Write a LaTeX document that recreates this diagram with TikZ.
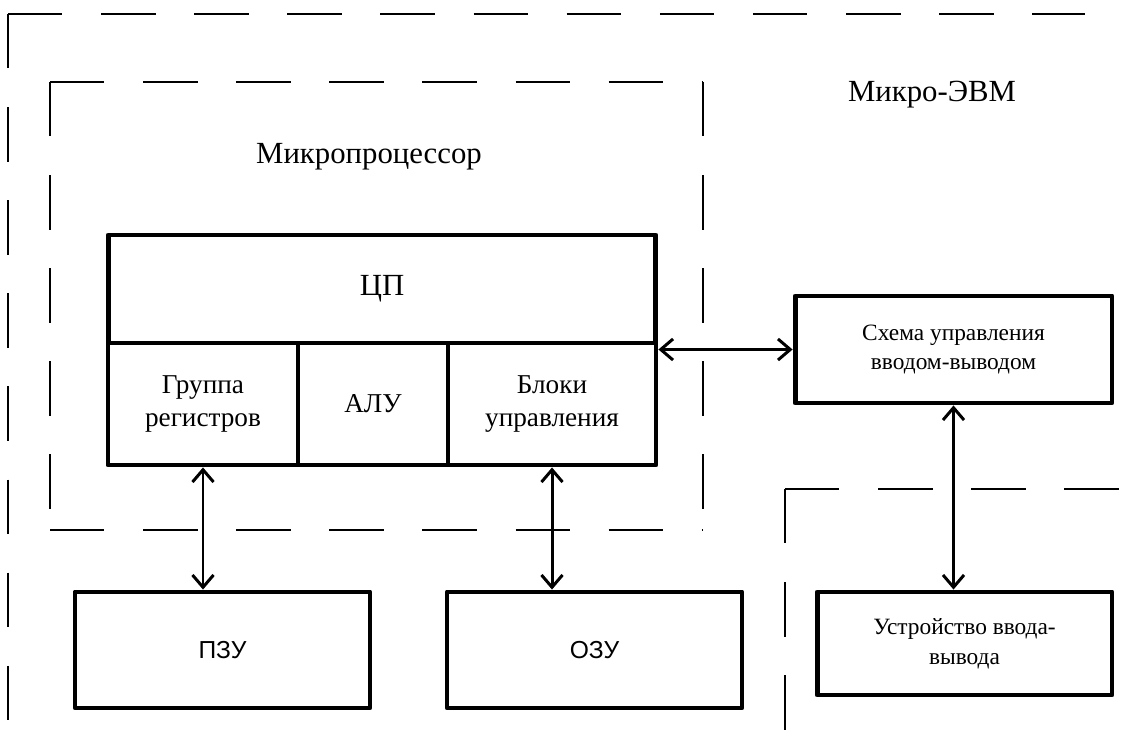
\documentclass[tikz,border=0pt]{standalone}
\usepackage{fontspec}
\setmainfont{Liberation Serif}
\newfontfamily\sansf{Liberation Sans}
\usetikzlibrary{arrows.meta}
\begin{document}
\begin{tikzpicture}[x=0.02cm, y=-0.02cm, line join=round,
	>={Straight Barb[length=7pt,width=12pt]},
	box/.style={draw, line width=2.8pt, inner sep=0pt, align=center},
	link/.style={<->, line width=1.7pt},
	frame/.style={line width=1.1pt, dash pattern=on 31pt off 22pt},
	big/.style={font=\fontsize{17.5}{21}\selectfont},
	mid/.style={font=\fontsize{15.5}{19}\selectfont},
	small/.style={font=\fontsize{13.3}{17}\selectfont}]
				\useasboundingbox (0,0) rectangle (1135,733);
				\draw[frame] (8,14)--(1085,14) (8,14)--(8,733);
				\draw[frame] (50,82)--(703,82) (50,82)--(50,530) (703,82)--(703,530) (50,530)--(703,530);
				\draw[frame] (785,489)--(1135,489) (785,489)--(785,733);
				\node[big] (evm) at (932,95) {Микро-ЭВМ};
				\node[big] (mp) at (369,157) {Микропроцессор};
				\node[box, big, minimum width=10.96cm, minimum height=2.16cm] (cp) at (382,289) {ЦП};
				\node[box, mid, minimum width=3.8cm, minimum height=2.44cm] (reg) at (203,404) {Группа\\регистров};
				\node[box, mid, minimum width=3cm, minimum height=2.44cm] (alu) at (373,404) {АЛУ};
				\node[box, mid, minimum width=4.16cm, minimum height=2.44cm] (blk) at (552,404) {Блоки\\управления};
				\node[box, small, minimum width=6.34cm, minimum height=2.14cm] (io) at (953.5,349.5) {Схема управления\\вводом-выводом};
				\node[box, small, minimum width=5.9cm, minimum height=2.06cm] (dev) at (964.5,643.5) {Устройство ввода-\\вывода};
				\node[box, font=\sansf\fontsize{14}{17}\selectfont, minimum width=5.9cm, minimum height=2.32cm] (pzu) at (222.5,650) {ПЗУ};
				\node[box, font=\sansf\fontsize{14}{17}\selectfont, minimum width=5.9cm, minimum height=2.32cm] (ozu) at (594.5,650) {ОЗУ};
				\draw[link] (io.west -| blk.east)--(io.west);
				\draw[link] (io.south)--(io.south |- dev.north);
				\draw[link] (reg.south)--(reg.south |- pzu.north);
				\draw[link] (blk.south)--(blk.south |- ozu.north);
			\end{tikzpicture}
\end{document}
